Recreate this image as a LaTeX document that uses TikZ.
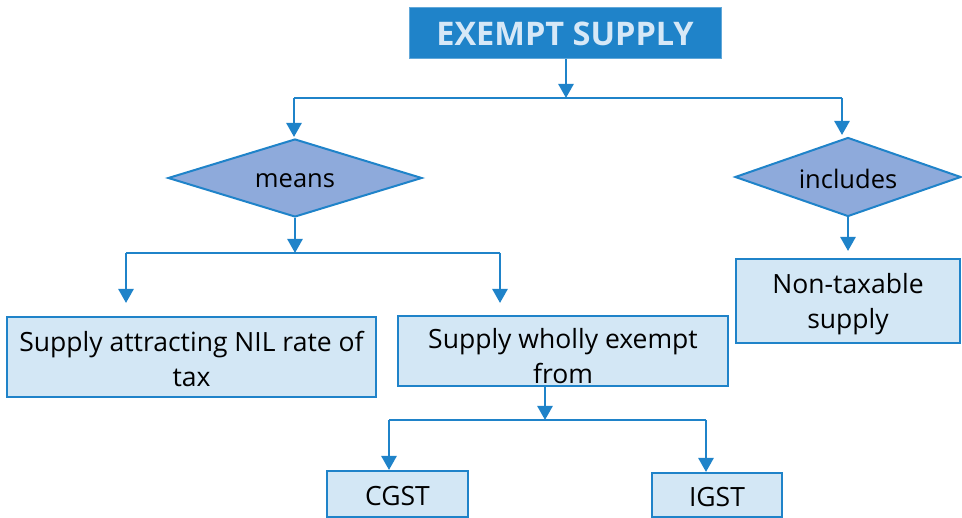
\documentclass[tikz,border=0pt]{standalone}
\usepackage{fontspec}
\setmainfont{Open Sans}
\usetikzlibrary{shapes.geometric,arrows.meta}
\definecolor{mainblue}{HTML}{1F83C9}
\definecolor{titletext}{HTML}{D6E8F7}
\definecolor{dfill}{HTML}{8EAADB}
\definecolor{bfill}{HTML}{D3E7F5}
\tikzset{
  conn/.style={draw=mainblue,line width=2.6pt,-{Triangle[width=15pt,length=14pt]}},
  plain/.style={draw=mainblue,line width=2.6pt},
  lbox/.style={draw=mainblue,line width=2pt,fill=bfill,inner sep=0pt},
  btext/.style={font=\fontsize{26.5}{35}\selectfont,align=center,inner sep=0pt},
  dia/.style={diamond,draw=mainblue,line width=2pt,fill=dfill,inner sep=0pt},
  dtext/.style={font=\fontsize{25.5}{30}\selectfont,inner sep=0pt},
}
\begin{document}
\begin{tikzpicture}[x=1pt,y=-1pt]
\useasboundingbox (0,0) rectangle (962,518);
% title
\node[draw=mainblue!70!white,line width=1pt,fill=mainblue,minimum width=312pt,minimum height=51pt,inner sep=0pt,
  text=titletext,font=\fontsize{32.5}{36}\selectfont\bfseries] (title) at (565,33.5) {EXEMPT SUPPLY};
% diamonds
\node[dia,minimum width=254pt,minimum height=78pt,aspect=3.26] (means) at (295,178) {};
\node[dtext] (meanst) at (295,181) {means};
\node[dia,minimum width=226pt,minimum height=79pt,aspect=2.86] (incl) at (848,177) {};
\node[dtext] (inclt) at (848,179) {includes};
% boxes
\node[lbox,minimum width=369pt,minimum height=80pt] (nil) at (191.5,357) {};
\node[btext] (nilt) at (191.5,359) {Supply attracting NIL rate of\\tax};
\node[lbox,minimum width=330pt,minimum height=70pt] (wholly) at (563,351) {};
\node[btext] (whollyt) at (563,356) {Supply wholly exempt\\from};
\node[lbox,minimum width=224pt,minimum height=84pt] (nontax) at (848,301) {};
\node[btext] (nontaxt) at (848,304) {Non-taxable\\supply};
\node[lbox,minimum width=141pt,minimum height=46pt] (cgst) at (397.5,494) {};
\node[btext] (cgstt) at (397.5,496) {CGST};
\node[lbox,minimum width=130pt,minimum height=44pt] (igst) at (717,495) {};
\node[btext] (igstt) at (717,497) {IGST};
% junction coordinates
\coordinate (j1) at (566,98);
\coordinate (j1l) at (294,98);
\coordinate (j1r) at (842,98);
\coordinate (a1l) at (294,137);
\coordinate (a1r) at (842,135);
\coordinate (j2) at (295,253);
\coordinate (j2l) at (126,253);
\coordinate (j2r) at (500,253);
\coordinate (a2l) at (126,303);
\coordinate (a2r) at (500,303);
\coordinate (a3) at (848,251);
\coordinate (j3) at (545,420);
\coordinate (j3l) at (389,420);
\coordinate (j3r) at (706,420);
\coordinate (a4l) at (389,470);
\coordinate (a4r) at (706,472);
% connectors
\draw[conn] (title.south -| j1) -- (j1);
\draw[plain] (j1l) -- (j1r);
\draw[conn] (j1l) -- (a1l);
\draw[conn] (j1r) -- (a1r);
\draw[conn] (means.south) -- (j2);
\draw[plain] (j2l) -- (j2r);
\draw[conn] (j2l) -- (a2l);
\draw[conn] (j2r) -- (a2r);
\draw[conn] (incl.south) -- (a3);
\draw[conn] (wholly.south -| j3) -- (j3);
\draw[plain] (j3l) -- (j3r);
\draw[conn] (j3l) -- (a4l);
\draw[conn] (j3r) -- (a4r);
\end{tikzpicture}
\end{document}
